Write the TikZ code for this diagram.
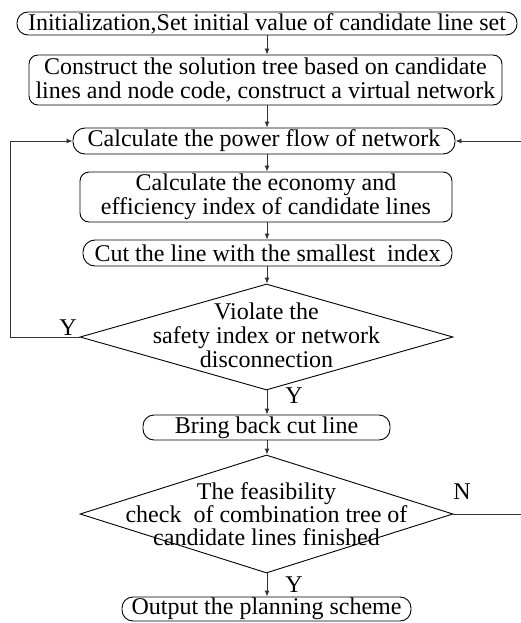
\documentclass[tikz,border=0pt]{standalone}
\usepackage{fontspec}
\setmainfont{Liberation Serif}
\usetikzlibrary{arrows.meta,shapes.geometric}
\begin{document}
\begin{tikzpicture}[x=1pt,y=-1pt,
  every node/.style={font=\fontsize{24}{24}\selectfont},
  base/.style={draw=black,line width=0.9pt,inner sep=0pt,align=center},
  stadium/.style={base,rectangle,rounded corners=11pt},
  boxr/.style={base,rectangle,rounded corners=9pt},
  decide/.style={draw=black,line width=0.9pt,diamond,inner sep=0pt},
  arr/.style={draw=black!80,line width=0.9pt,-{Latex[length=6pt,width=5pt]}},
  lbl/.style={inner sep=0pt}]
\useasboundingbox (0,0) rectangle (520,623);

% vertical axis of the main flow
\coordinate (axis) at (267,0);

% process steps
\node[stadium,minimum width=500pt,minimum height=23pt] (init) at (267,23.5)
  {Initialization,Set initial value of candidate line set};
\node[boxr,minimum width=473pt,minimum height=50pt] (tree) at (265.5,80)
  {Construct the solution tree based on candidate\\lines and node code, construct a virtual network};
\node[stadium,minimum width=382pt,minimum height=26pt,rounded corners=12pt] (flow) at (264,141)
  {Calculate the power flow of network};
\node[boxr,minimum width=372pt,minimum height=50pt] (econ) at (266,197)
  {Calculate the economy and\\efficiency index of candidate lines};
\node[stadium,minimum width=369pt,minimum height=26pt,rounded corners=12pt] (cut) at (267.5,253)
  {Cut the line with the smallest\ \ index};

% first decision
\node[decide,minimum width=373pt,minimum height=106pt] (safe) at (266.5,337) {};
\node[lbl,align=center] (safetxt) at (266.5,335)
  {Violate the\\safety index or network\\disconnection};

\node[stadium,minimum width=247pt,minimum height=25pt] (back) at (266.5,427.5)
  {Bring back cut line};

% second decision
\node[decide,minimum width=373pt,minimum height=118pt] (feas) at (266.5,514) {};
\node[lbl,align=center,font=\fontsize{24}{23}\selectfont] (feastxt) at (266.5,514)
  {The feasibility\\check\ \ of combination tree of\\candidate lines finished};

\node[stadium,minimum width=289pt,minimum height=24pt] (out) at (266.5,609)
  {Output the planning scheme};

% main flow arrows
\draw[arr] (init.south -| axis) -- (tree.north -| axis);
\draw[arr] (tree.south -| axis) -- (flow.north -| axis);
\draw[arr] (flow.south -| axis) -- (econ.north -| axis);
\draw[arr] (econ.south -| axis) -- (cut.north -| axis);
\draw[arr] (cut.south -| axis) -- (safe.north -| axis);
\draw[arr] (safe.south -| axis) -- (back.north -| axis);
\draw[arr] (back.south -| axis) -- (feas.north -| axis);
\draw[arr] (feas.south -| axis) -- (out.north -| axis);

% feedback loops
\coordinate (leftrail) at (10,0);
\coordinate (rightrail) at (521.5,0);
\draw[arr] (safe.west) -- (safe.west -| leftrail) -- (flow.west -| leftrail) -- (flow.west);
\draw[arr] (feas.east) -- (feas.east -| rightrail) -- (flow.east -| rightrail) -- (flow.east);

% branch labels
\node[lbl] (ya) at (68,328) {Y};
\node[lbl] (yb) at (294,396) {Y};
\node[lbl] (nc) at (462,492) {N};
\node[lbl] (yd) at (294,584.5) {Y};
\end{tikzpicture}
\end{document}
